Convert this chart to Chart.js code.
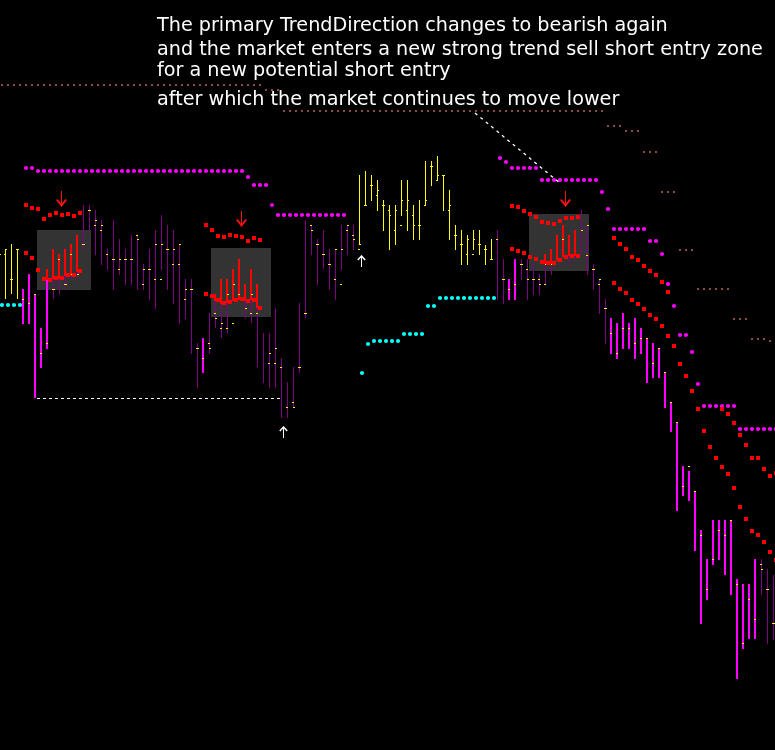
<!DOCTYPE html>
<html>
<head>
<meta charset="utf-8">
<script src="https://cdn.jsdelivr.net/npm/chart.js"></script>
<style>
html,body{margin:0;padding:0;background:#000;overflow:hidden}
#wrap{position:relative;width:775px;height:750px;background:#000}
#c{position:absolute;left:0;top:0}
.note{position:absolute;left:157px;color:#fff;font-family:"DejaVu Sans",sans-serif;font-size:19.2px;line-height:1;white-space:nowrap}
</style>
</head>
<body>
<div id="wrap">
<canvas id="c" width="775" height="750"></canvas>
<div class="note" style="top:14.8px">The primary TrendDirection changes to bearish again</div>
<div class="note" style="top:38.8px">and the market enters a new strong trend sell short entry zone</div>
<div class="note" style="top:59.8px">for a new potential short entry</div>
<div class="note" style="top:88.8px">after which the market continues to move lower</div>
</div>
<script>
// ---- bar colour class per bar: Y = up-trend (yellow), P = neutral (purple), M = strong sell (magenta)
const barKind = ("YYYY" + "MMMMM" + "PPPPPPPPPPPPPPPPPPPPPPPPP" + "M" + "PPPPPPPPPPPPPPPPPPPPPPPPP" +
  "YYYYYYYYYYYYYYYYYYYYYYY" + "PP" + "MM" + "PPPPPPPPPPPPPPP" + "MMMMMMMMMMMMMMMMMMMMMMMMM" + "PPP").split("");

const barHigh = [
  506,501,506,501,461,476,456,422,470,501,
  496,501,506,515,545,545,540,530,501,530,
  511,501,515,515,486,501,520,535,525,520,
  506,471,471,407,412,437,456,471,471,481,
  491,466,481,466,417,417,442,392,368,383,
  447,530,525,511,520,501,501,525,525,525,
  575,579,575,570,550,545,545,570,570,545,
  550,589,589,594,575,560,525,520,515,520,
  520,505,511,520,491,471,491,491,491,486,
  476,496,501,515,525,515,520,540,525,486,
  471,451,432,427,437,427,432,422,412,407,
  402,378,348,328,284,279,259,220,191,230,
  230,230,230,171,166,166,191,191,181,175
];
const barLow = [
  481,451,456,451,426,426,352,382,401,451,
  456,461,471,471,500,519,495,485,480,460,
  475,465,465,460,460,450,441,480,460,446,
  426,431,396,362,377,396,422,412,417,449,
  450,432,427,383,367,362,362,332,332,343,
  377,432,495,465,481,460,450,480,495,500,
  506,545,549,539,519,500,505,534,519,510,
  510,544,564,569,539,510,500,485,485,500,
  495,485,490,450,446,450,450,470,450,455,
  455,465,475,489,493,485,490,495,475,460,
  436,406,396,391,401,401,391,396,367,372,
  372,342,318,239,254,249,199,126,150,185,
  190,175,155,71,101,111,111,155,106,110
];
const barOpen = [
  496,501,471,501,null,null,null,null,null,461,
  null,466,476,476,506,540,530,525,null,491,
  491,491,491,511,481,481,506,506,501,501,
  506,461,461,402,null,402,432,427,456,466,
  null,442,456,null,null,397,402,null,null,343,
  383,437,520,506,496,486,501,501,525,511,
  506,545,565,560,545,535,540,550,550,525,
  525,550,584,575,575,545,515,506,511,511,
  506,501,491,null,471,null,null,486,471,471,
  466,486,486,null,null,null,null,520,525,481,
  471,442,null,null,null,null,null,null,null,null,
  null,null,null,null,null,null,null,null,null,null,
  null,null,null,null,null,null,null,181,161,127
];
const barClose = [
  496,471,501,451,447,456,397,407,461,491,
  466,496,null,506,540,525,520,496,491,481,
  491,491,515,466,481,471,471,501,486,486,
  451,461,402,392,407,437,422,422,427,456,
  null,437,437,null,387,387,383,343,348,383,
  437,525,506,496,486,471,466,520,515,501,
  545,565,555,545,540,520,525,540,535,525,
  545,584,570,575,540,515,506,496,496,506,
  501,491,511,471,461,466,486,481,471,471,
  466,null,null,511,null,null,null,495,481,466,
  442,417,397,422,422,407,412,412,387,402,
  378,348,328,264,284,259,215,161,191,220,
  215,230,166,107,151,131,186,161,127,null
];

// ---- red sell-zone bars (drawn over the candles inside the grey zones)
const redBarIndex  = [8,9,10,11,12,13, 36,37,38,39,40,41,42,43, 91,92,93,94,95,96];
const redBarTop    = [481,501,496,501,506,515, 456,471,471,481,491,466,481,466, 496,501,515,525,515,520];
const redBarBottom = [470,471,471,474,474,478, 449,446,447,449,450,449,450,442, 486,486,489,493,494,494];

// ---- red dotted bands (upper and lower)
const redUpperStart = [4, 34, 85, 102, 120];
const redUpperValues = [
  [545,542,541,531,535,537,535,536,534,537],
  [525,520,514,513,515,514,513,509,512,510],
  [544,543,539,536,533,528,527,526,529,532,532,533],
  [512,506,501,493,490,484,479,475,468,458],
  [341,336,327,315,305,292,292,281,274,277]
];
const redLowerStart = [4, 34, 85, 102];
const redLowerValues = [
  [497,492,480,471,470,472,472,475,475,479],
  [456,454,450,447,448,450,451,449,450,442],
  [501,499,497,493,491,488,487,487,490,493,494,494],
  [467,461,457,450,446,441,435,431,424,414,404,386,374,359,341,319,303,292,283,276,262,243,231,219,215,208,198,190]
];

// ---- magenta resistance dots (trend stop, upper)
const magentaStart = [4, 83];
const magentaValues = [
  [582,582,579,579,579,579,579,579,579,579,579,579,579,579,579,579,579,579,579,579,579,579,579,579,579,579,579,579,579,579,579,579,579,579,579,579,579,573,565,565,565,545,535,535,535,535,535,535,535,535,535,535,535,535],
  [592,588,582,582,582,582,582,570,570,570,570,570,570,570,570,570,570,558,541,521,521,521,521,521,521,509,509,496,466,444,415,415,398,366,344,344,344,344,344,344,321,321,321,321,321,321,321]
];

// ---- cyan support dots (trend stop, lower)
const cyanStart = [0, 60];
const cyanValues = [
  [445,445,445,445],
  [377,406,409,409,409,409,409,416,416,416,416,444,444,452,452,452,452,452,452,452,452,452,452]
];

// ---- brown dotted level line (one value per bar)
const levelValues = [
  665,665,665,665,665,665,665,665,665,665,665,665,665,665,665,665,665,665,665,665,665,665,
  665,665,665,665,665,665,665,665,665,665,665,665,665,665,665,665,665,665,665,665,665,665,
  660,660,660,
  639,639,639,639,639,639,639,639,639,639,639,639,639,639,639,639,639,639,
  639,639,639,639,639,639,639,639,639,639,639,639,639,639,639,639,639,639,
  639,639,639,639,639,639,639,639,639,639,639,639,639,639,639,639,639,639,
  624,624,624, 619,619,619, 598,598,598, 558,558,558, 500,500,500,
  461,461,461,461,461,461, 431,431,431, 411,411,411, 409,409
];

// ---- grey sell-entry zones
const zoneFrom = [6, 35, 88];
const zoneTo = [15, 45, 98];
const zoneTop = [520, 502, 536];
const zoneBottom = [460, 433, 479];

// ---- signal arrows
const sellArrowBar = [10, 40, 94];
const sellArrowLevel = [551, 531, 551];
const buyArrowBar = [47, 60];
const buyArrowLevel = [318, 489];

// ---- drawn lines
const supportLineBars = [5.92, 46.42];
const supportLineLevel = [351.5, 351.5];
const trendLineBars = [78.92, 93.25];
const trendLineLevel = [637, 566];

// ================= build =================
const N = barKind.length;
const idx = Array.from({length: N}, (_, i) => i);
const kindColor = {Y: '#ffff00', P: '#800080', M: '#ff00ff'};

const thinIdx = idx.filter(i => barKind[i] !== 'M');
const thickIdx = idx.filter(i => barKind[i] === 'M');

function segPoints(starts, values) {
  const pts = [];
  starts.forEach((s, k) => values[k].forEach((v, j) => pts.push({x: s + j, y: v})));
  return pts;
}

function arrowDown(color) {
  const c = document.createElement('canvas');
  c.width = 11; c.height = 16;
  const g = c.getContext('2d');
  g.strokeStyle = color;
  g.lineWidth = 1;
  g.beginPath(); g.moveTo(5.5, 0); g.lineTo(5.5, 14); g.stroke();
  g.lineWidth = 2;
  g.beginPath(); g.moveTo(0.8, 8.5); g.lineTo(5.5, 14.5); g.lineTo(10.2, 8.5); g.stroke();
  return c;
}
function arrowUp(color) {
  const c = document.createElement('canvas');
  c.width = 9; c.height = 12;
  const g = c.getContext('2d');
  g.strokeStyle = color;
  g.lineWidth = 1;
  g.beginPath(); g.moveTo(4.5, 1); g.lineTo(4.5, 12); g.stroke();
  g.lineWidth = 1.5;
  g.beginPath(); g.moveTo(0.8, 5); g.lineTo(4.5, 1); g.lineTo(8.2, 5); g.stroke();
  return c;
}

const zonePlugin = {
  id: 'zones',
  beforeDatasetsDraw(chart) {
    const {ctx} = chart;
    const xs = chart.scales.xm, ys = chart.scales.y;
    ctx.save();
    ctx.fillStyle = '#333333';
    for (let k = 0; k < zoneFrom.length; k++) {
      const x0 = xs.getPixelForValue(zoneFrom[k]), x1 = xs.getPixelForValue(zoneTo[k]);
      const y0 = ys.getPixelForValue(zoneTop[k]), y1 = ys.getPixelForValue(zoneBottom[k]);
      ctx.fillRect(x0, y0, x1 - x0, y1 - y0);
    }
    ctx.restore();
  }
};

const barCommon = {type: 'bar', stack: 'k', inflateAmount: 0, borderWidth: 0, yAxisID: 'y'};
const dotCommon = {type: 'scatter', showLine: false, pointBorderWidth: 0, xAxisID: 'xd', yAxisID: 'y'};

const datasets = [
  Object.assign({}, barCommon, {
    label: 'bars', xAxisID: 'x', barThickness: 1, order: 20,
    data: thinIdx.map(i => ({x: i, y: [barLow[i], barHigh[i]]})),
    backgroundColor: thinIdx.map(i => kindColor[barKind[i]])
  }),
  Object.assign({}, barCommon, {
    label: 'strong', xAxisID: 'xm', barThickness: 2, order: 19,
    data: thickIdx.map(i => ({x: i, y: [barLow[i], barHigh[i]]})),
    backgroundColor: '#ff00ff'
  }),
  Object.assign({}, barCommon, {
    label: 'zone bars', xAxisID: 'xm', barThickness: 2, order: 18,
    data: redBarIndex.map((b, k) => ({x: b, y: [redBarBottom[k], redBarTop[k]]})),
    backgroundColor: '#ff0000'
  }),
  Object.assign({}, barCommon, {
    label: 'open', xAxisID: 'xo', barThickness: 2, order: 17,
    data: idx.filter(i => barOpen[i] !== null).map(i => ({x: i, y: [barOpen[i] - 1, barOpen[i]]})),
    backgroundColor: '#ffff00'
  }),
  Object.assign({}, barCommon, {
    label: 'close', xAxisID: 'xc', barThickness: 2, order: 16,
    data: idx.filter(i => barClose[i] !== null).map(i => ({x: i, y: [barClose[i] - 1, barClose[i]]})),
    backgroundColor: '#ffff00'
  }),
  Object.assign({}, dotCommon, {
    label: 'level', order: 15, pointStyle: 'rect', pointRadius: 1.4142,
    data: levelValues.map((v, i) => ({x: i, y: v})),
    backgroundColor: '#8e4a44'
  }),
  Object.assign({}, dotCommon, {
    label: 'magenta', order: 14, pointStyle: 'circle', pointRadius: 2.1,
    data: segPoints(magentaStart, magentaValues), backgroundColor: '#ff00ff'
  }),
  Object.assign({}, dotCommon, {
    label: 'cyan', order: 13, pointStyle: 'circle', pointRadius: 2.1,
    data: segPoints(cyanStart, cyanValues), backgroundColor: '#00ffff'
  }),
  Object.assign({}, dotCommon, {
    label: 'red upper', order: 12, pointStyle: 'rect', pointRadius: 2.8285,
    data: segPoints(redUpperStart, redUpperValues), backgroundColor: '#ff0000'
  }),
  Object.assign({}, dotCommon, {
    label: 'red lower', order: 11, pointStyle: 'rect', pointRadius: 2.8285,
    data: segPoints(redLowerStart, redLowerValues), backgroundColor: '#ff0000'
  }),
  {
    type: 'line', label: 'support', xAxisID: 'x', yAxisID: 'y', order: 10,
    data: supportLineBars.map((b, k) => ({x: b, y: supportLineLevel[k]})),
    borderColor: '#ffffff', borderWidth: 1, borderDash: [3, 3], pointRadius: 0, fill: false
  },
  {
    type: 'line', label: 'trend', xAxisID: 'x', yAxisID: 'y', order: 9,
    data: trendLineBars.map((b, k) => ({x: b, y: trendLineLevel[k]})),
    borderColor: '#ffffff', borderWidth: 1.3, borderDash: [3, 4], pointRadius: 0, fill: false
  },
  {
    type: 'scatter', label: 'sell arrows', xAxisID: 'x', yAxisID: 'y', order: 2,
    data: sellArrowBar.map((b, k) => ({x: b, y: sellArrowLevel[k]})),
    pointStyle: arrowDown('#ff1010'), pointRadius: 6
  },
  {
    type: 'scatter', label: 'buy arrows', xAxisID: 'x', yAxisID: 'y', order: 1,
    data: buyArrowBar.map((b, k) => ({x: b, y: buyArrowLevel[k]})),
    pointStyle: arrowUp('#ffffff'), pointRadius: 6
  }
];

function xScale(min, max) {
  return {type: 'linear', axis: 'x', display: false, offset: false, min: min, max: max, grid: {display: false}};
}

new Chart(document.getElementById('c'), {
  type: 'bar',
  data: {datasets: datasets},
  options: {
    responsive: false,
    devicePixelRatio: 1,
    animation: false,
    events: [],
    layout: {padding: 0, autoPadding: false},
    plugins: {legend: {display: false}, tooltip: {enabled: false}, title: {display: false}},
    scales: {
      x: xScale(-0.25, 775 / 6 - 0.25),
      xm: xScale(-1 / 6, 775 / 6 - 1 / 6),
      xo: xScale(0, 775 / 6),
      xc: xScale(-0.5, 775 / 6 - 0.5),
      xd: xScale(-1 / 3, 775 / 6 - 1 / 3),
      y: {type: 'linear', display: false, min: 0, max: 750, stacked: false, grid: {display: false}}
    }
  },
  plugins: [zonePlugin]
});
</script>
</body>
</html>
